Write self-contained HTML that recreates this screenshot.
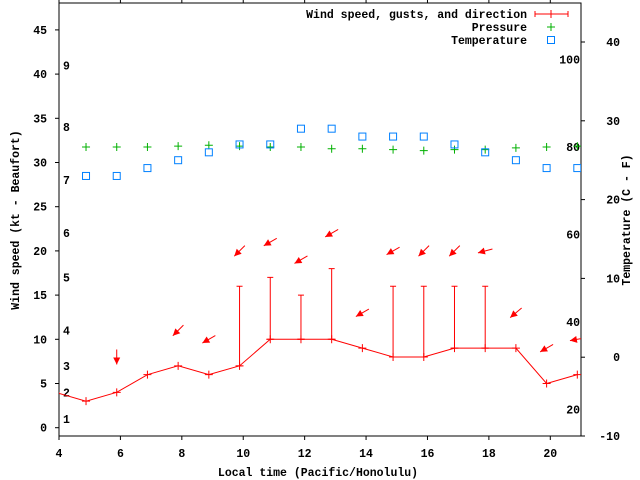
<!DOCTYPE html>
<html><head><meta charset="utf-8"><style>
html,body{margin:0;padding:0;background:#fff;}
svg{display:block;font-family:"Liberation Mono",monospace;font-weight:bold;font-size:11.5px;}
</style></head><body>
<svg id="chart" width="640" height="480" viewBox="0 0 640 480" xmlns="http://www.w3.org/2000/svg">
<defs><clipPath id="plotclip"><rect x="59" y="3" width="522" height="433"/></clipPath></defs>
<g id="axes"></g>
<g id="marks" clip-path="url(#plotclip)"></g>
<g id="legend"></g>
</svg>
<script>
const times = [3.88,4.88,5.88,6.88,7.88,8.88,9.88,10.88,11.88,12.88,13.88,14.88,15.88,16.88,17.88,18.88,19.88,20.88];
const windKt = [4,3,4,6,7,6,7,10,10,10,9,8,8,9,9,9,5,6];
const gustKt = [null,null,null,null,null,null,16,17,15,18,null,16,16,16,16,null,null,null];
const windDir = [null,null,0,null,45,60,45,60,60,60,60,60,45,45,75,50,60,80];
const pressureHpa = [null,1016.0,1016.0,1016.0,1016.05,1016.1,1016.05,1016.0,1016.0,1015.9,1015.9,1015.85,1015.8,1015.85,1015.85,1015.95,1016.0,1016.05];
const tempC = [null,23,23,24,25,26,27,27,29,29,28,28,28,27,26,25,24,24];
const xTicks = [4,6,8,10,12,14,16,18,20];
const ktTicks = [0,5,10,15,20,25,30,35,40,45];
const beaufortNums = [1,2,3,4,5,6,7,8,9];
const beaufortKt = [1,4,7,11,17,22,28,34,41];
const cTicks = [-10,0,10,20,30,40];
const fTicks = [20,40,60,80,100];

const NS="http://www.w3.org/2000/svg";
const L=59,R=581,T=3,B=436;
const xS=t=>L+(t-4)*(R-L)/17;
const yK=k=>427.7-k*8.84;
const yC=c=>B-(c+10)*7.88;
const yF=f=>yC((f-32)*5/9);
const yP=p=>yK(31.75+(p-1016)*2);
function mk(tag,attrs,parent,text){const e=document.createElementNS(NS,tag);for(const k in attrs)e.setAttribute(k,attrs[k]);if(text!==undefined)e.textContent=text;parent.appendChild(e);return e;}
const axes=document.getElementById('axes'),marks=document.getElementById('marks'),leg=document.getElementById('legend');

let el=mk('rect',{x:L,y:T,width:R-L,height:B-T,fill:'none',stroke:'#000','stroke-width':1},axes);


xTicks.forEach(t=>{
  let x=xS(t);
  mk('line',{x1:x,y1:B,x2:x,y2:B+4,stroke:'#000'},axes);
  mk('line',{x1:x,y1:T,x2:x,y2:T-4,stroke:'#000'},axes);
  let tx=mk('text',{x:x,y:457,'text-anchor':'middle'},axes,String(t));
  
  
});
ktTicks.forEach(k=>{
  let y=yK(k);
  mk('line',{x1:L,y1:y,x2:L-4,y2:y,stroke:'#000'},axes);
  let tx=mk('text',{x:47,y:y+4,'text-anchor':'end'},axes,String(k));
  
  
});
beaufortNums.forEach((n,i)=>{
  let tx=mk('text',{x:63,y:yK(beaufortKt[i])+4},axes,String(n));
  
  
});
cTicks.forEach(c=>{
  let y=yC(c);
  mk('line',{x1:R,y1:y,x2:R+4,y2:y,stroke:'#000'},axes);
  let tx=mk('text',{x:620,y:y+4,'text-anchor':'end'},axes,String(c));
  
  
});
fTicks.forEach(f=>{
  let tx=mk('text',{x:580,y:yF(f)+4,'text-anchor':'end'},axes,String(f));
  
  
});
el=mk('text',{x:318,y:476,'text-anchor':'middle'},axes,'Local time (Pacific/Honolulu)');


el=mk('text',{x:0,y:0,'text-anchor':'middle',transform:'translate(19,220) rotate(-90)'},axes,'Wind speed (kt - Beaufort)');


el=mk('text',{x:0,y:0,'text-anchor':'middle',transform:'translate(630,220) rotate(-90)'},axes,'Temperature (C - F)');



// wind line
let pts=times.map((t,i)=>xS(t)+','+yK(windKt[i])).join(' ');
el=mk('polyline',{points:pts,fill:'none',stroke:'#f00','stroke-width':1},marks);


times.forEach((t,i)=>{
  let x=xS(t),y=yK(windKt[i]);
  let g=mk('path',{d:`M${x-4},${y}H${x+4}M${x},${y-4}V${y+4}`,stroke:'#f00'},marks);
  
  
  if(gustKt[i]!==null){
    let yg=yK(gustKt[i]);
    let e=mk('path',{d:`M${x},${y}V${yg}M${x-3},${yg}H${x+3}M${x-3},${y}H${x+3}`,stroke:'#f00'},marks);
    
    
  }
  if(windDir[i]!==null){
    let top=Math.max(windKt[i],gustKt[i]||0)+4;
    let cy=yK(top),a=windDir[i]*Math.PI/180;
    let dx=Math.sin(a),dy=-Math.cos(a); // direction wind comes from (screen)
    let len=7.5;
    let x1=x+dx*len,y1=cy+dy*len,x2=x-dx*len,y2=cy-dy*len;
    let hx=x2+dx*7,hy=y2+dy*7,px=-dy*3.5,py=dx*3.5;
    let ar=mk('g',{},marks);
    
    
    mk('line',{x1:x1,y1:y1,x2:x2,y2:y2,stroke:'#f00'},ar);
    mk('polygon',{points:`${x2},${y2} ${hx+px},${hy+py} ${hx-px},${hy-py}`,fill:'#f00'},ar);
  }
  if(pressureHpa[i]!==null){
    let yp=yP(pressureHpa[i]);
    let p=mk('path',{d:`M${x-4},${yp}H${x+4}M${x},${yp-4}V${yp+4}`,stroke:'#00b000'},marks);
    
    
  }
  if(tempC[i]!==null){
    let yt=yC(tempC[i]);
    let s=mk('rect',{x:x-3.5,y:yt-3.5,width:7,height:7,fill:'none',stroke:'#0080ff'},marks);
    
    
  }
});

// legend
const legRows=[['Wind speed, gusts, and direction',14],['Pressure',27],['Temperature',40]];
legRows.forEach(r=>{
  let t=mk('text',{x:527,y:r[1]+4,'text-anchor':'end'},leg,r[0]);
  
  
});
el=mk('path',{d:'M535,14H568M535,11V17M568,11V17M551,10V18',stroke:'#f00'},leg);


el=mk('path',{d:'M547,27H555M551,23V31',stroke:'#00b000'},leg);


el=mk('rect',{x:547.5,y:36.5,width:7,height:7,fill:'none',stroke:'#0080ff'},leg);


</script>
</body></html>
